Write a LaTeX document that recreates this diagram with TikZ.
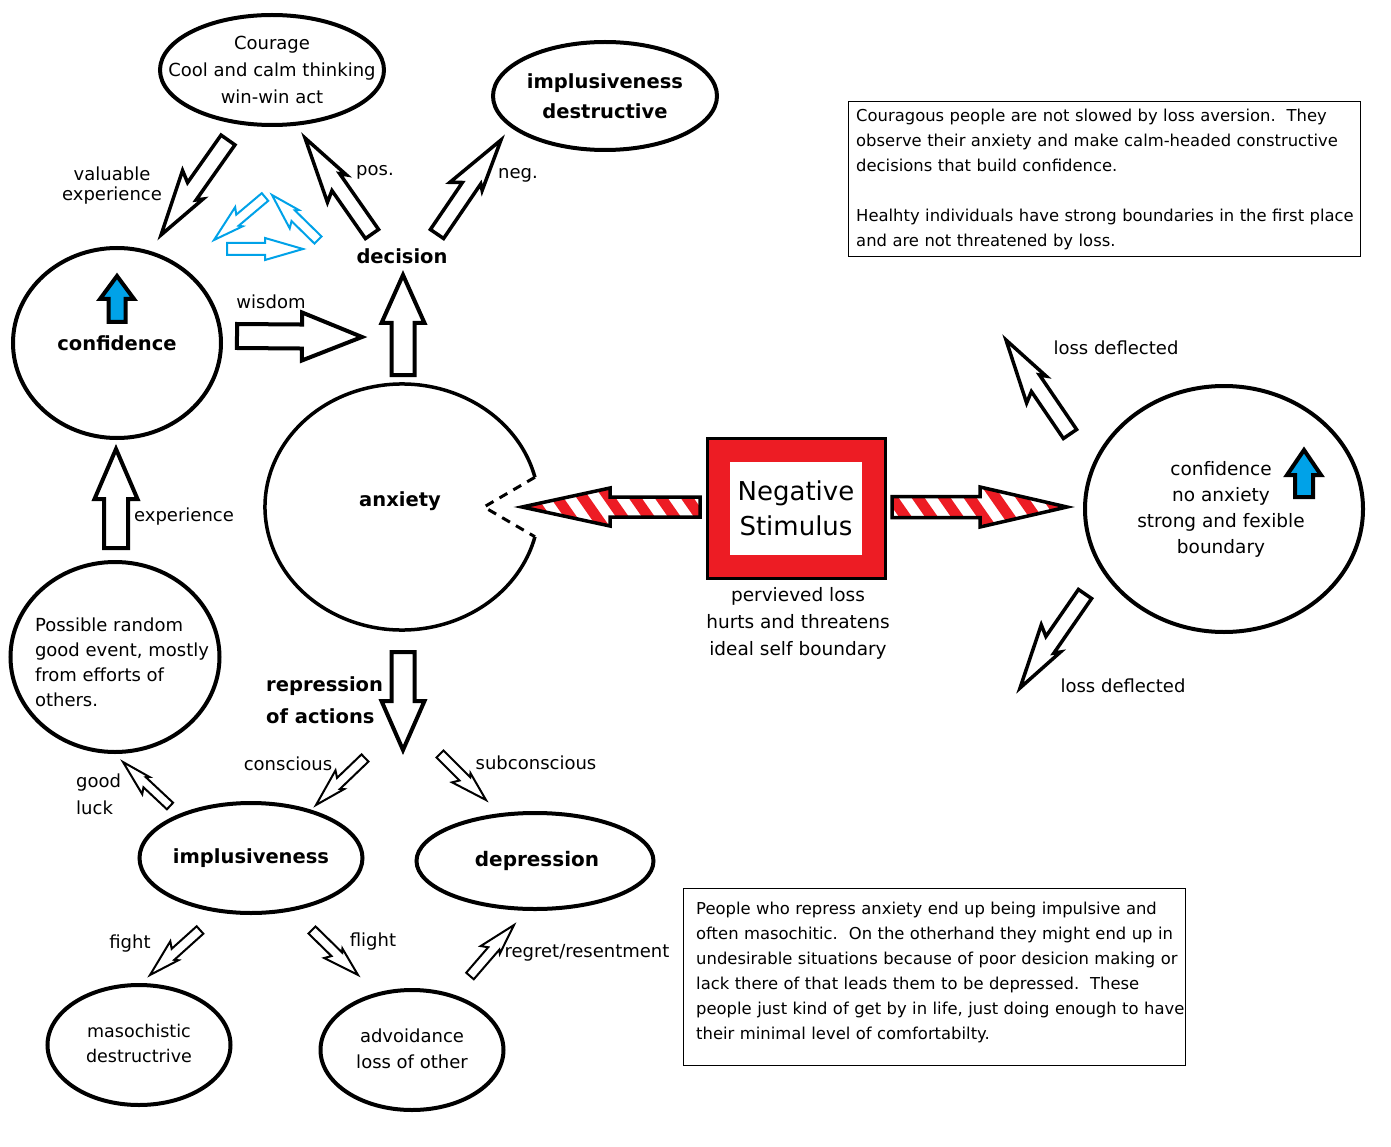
\documentclass[tikz,border=0pt]{standalone}
\usepackage{fontspec}
\setmainfont{DejaVu Sans}
\usetikzlibrary{shapes.geometric,calc}
\definecolor{stimred}{RGB}{237,28,36}
\definecolor{pblue}{RGB}{0,162,232}
\newcommand\fs[2]{\fontsize{#1}{#2}\selectfont}
% frame of an arrow from coordinate #1 to coordinate #2
\newcommand\arrowframe[2]{%
  \pgfpointanchor{#1}{center}\pgfgetlastxy{\arAx}{\arAy}%
  \pgfpointanchor{#2}{center}\pgfgetlastxy{\arBx}{\arBy}%
  \pgfmathsetmacro\aang{atan2((\arBy)-(\arAy),(\arBx)-(\arAx))}%
  \pgfmathsetmacro\alen{veclen((\arBx)-(\arAx),(\arBy)-(\arAy))}%
}
% block arrow polygon: half shaft #1, half head #2, head length #3
\newcommand\bpoly[3]{(0,-#1) -- ({\alen-#3},-#1) -- ({\alen-#3},-#2) -- (\alen,0) -- ({\alen-#3},#2) -- ({\alen-#3},#1) -- (0,#1) -- cycle}
% lightning arrow polygon: half width #1
\newcommand\lpoly[1]{(0,-#1) -- (0,#1) -- ({0.5*\alen},#1) -- ({0.44*\alen},{2.3*#1}) -- (\alen,0) -- ({0.54*\alen},{-1.6*#1}) -- ({0.58*\alen},-#1) -- cycle}
\newcommand\blockarrow[6]{% style, from, to, h, H, head length
  \arrowframe{#2}{#3}%
  \begin{scope}[shift={(\arAx,\arAy)}, rotate=\aang, x=1pt, y=1pt]
    \draw[#1] \bpoly{#4}{#5}{#6};
  \end{scope}}
\newcommand\boltarrow[5]{% style, from, to, h, mirror
  \arrowframe{#2}{#3}%
  \begin{scope}[shift={(\arAx,\arAy)}, rotate=\aang, x=1pt, y=1pt, yscale=#5]
    \draw[#1] \lpoly{#4};
  \end{scope}}
\newcommand\stripearrow[5]{% from, to, h, H, head length
  \arrowframe{#1}{#2}%
  \begin{scope}[shift={(\arAx,\arAy)}, rotate=\aang, x=1pt, y=1pt]
    \fill[white] \bpoly{#3}{#4}{#5};
    \begin{scope}
      \clip \bpoly{#3}{#4}{#5};
      \foreach \k in {-2,...,9} {\fill[stimred] ({\k*26+17.5},-25) -- ++(13,0) -- ++(-35,50) -- ++(-13,0) -- cycle;}
    \end{scope}
    \draw[line width=3.5] \bpoly{#3}{#4}{#5};
  \end{scope}}
\tikzset{
  ell/.style={draw, line width=4, ellipse, inner sep=0pt},
  txt/.style={inner sep=0pt, align=center},
  lab/.style={inner sep=0pt, font=\fs{18}{25}},
  bt/.style={inner sep=0pt, font=\bfseries\fs{19.5}{30}},
  blk/.style={draw, line width=4, fill=white},
  bigbolt/.style={draw, line width=3.5, fill=white},
  smallbolt/.style={draw, line width=2, fill=white},
  bluebolt/.style={draw=pblue, line width=2, fill=white},
  bluefill/.style={draw, line width=4, fill=pblue},
}
\begin{document}
\begin{tikzpicture}[x=1pt,y=-1pt]
\useasboundingbox (0,0) rectangle (1391,1147);
\fill[white] (0,0) rectangle (1391,1147);

% ---- ellipses
\node[ell, minimum width=224, minimum height=110] (courage) at (272,70) {};
\node[txt, font=\fs{18}{27}] (courage-t) at (courage) {Courage\\Cool and calm thinking\\win-win act};
\node[ell, minimum width=224, minimum height=108] (impd) at (605,96) {};
\node[txt, font=\bfseries\fs{19.5}{30}] (impd-t) at (impd) {implusiveness\\destructive};
\node[ell, minimum width=208, minimum height=190] (conf) at (117,343) {};
\node[bt] (conf-t) at (conf) {confidence};
\node[ell, minimum width=209, minimum height=190] (rand) at (115,657) {};
\node[txt, align=left, font=\fs{18}{25}] (rand-t) at (122,662) {Possible random\\good event, mostly\\from efforts of\\others.};
\node[ell, minimum width=278, minimum height=246] (healthy) at (1224,509) {};
\node[txt, font=\fs{18.5}{26}] (healthy-t) at (1221,509) {confidence\\no anxiety\\strong and fexible\\boundary};
\node[ell, minimum width=223, minimum height=110] (imp) at (251,858) {};
\node[bt] (imp-t) at (imp) {implusiveness};
\node[ell, minimum width=237, minimum height=96] (dep) at (535,861) {};
\node[bt, font=\bfseries\fs{20}{30}] (dep-t) at (537,861) {depression};
\node[ell, minimum width=183, minimum height=120] (maso) at (139,1045) {};
\node[txt, font=\fs{17.5}{25}] (maso-t) at (139,1043) {masochistic\\destructrive};
\node[ell, minimum width=183, minimum height=120] (avoid) at (412,1050) {};
\node[txt, font=\fs{18}{26}] (avoid-t) at (412,1049) {advoidance\\loss of other};

% ---- anxiety (open circle)
\coordinate (anx) at (402,507);
\coordinate (anxin) at (484,507);
\node[bt] (anxt) at (400,501) {anxiety};
\draw[line width=3.5] ($(anx)+(14:137pt and 123pt)$) arc[start angle=14, end angle=346, x radius=137pt, y radius=123pt];
\draw[line width=3, dash pattern=on 9pt off 7pt] ($(anx)+(14:137pt and 123pt)$) -- (anxin) -- ($(anx)+(-14:137pt and 123pt)$);

% ---- negative stimulus
\node[draw, line width=3, fill=stimred, minimum width=178, minimum height=140, inner sep=0pt] (stim) at (796,508) {};
\node[fill=white, minimum width=132, minimum height=93, inner sep=0pt, align=center, font=\fs{26}{35}] (stimt) at (796,508.5) {Negative\\Stimulus};
\node[lab, align=center, font=\fs{18.5}{27}] (losst) at (798,623) {pervieved loss\\hurts and threatens\\ideal self boundary};

% ---- text labels
\node[bt] (decision) at (402,256) {decision};
\node[lab, align=center, font=\fs{18}{20}] (vexp) at (112,186) {valuable\\experience};
\node[lab] (pos) at (375,172) {pos.};
\node[lab] (neg) at (518,175) {neg.};
\node[lab] (wisdom) at (271,302) {wisdom};
\node[lab] (exper) at (184,517) {experience};
\node[bt, align=left, font=\bfseries\fs{19.5}{32}, anchor=west] (repr) at (266,700) {repression\\of actions};
\node[lab] (ldu) at (1116,348) {loss deflected};
\node[lab] (ldd) at (1123,686) {loss deflected};
\node[lab, align=left, font=\fs{18}{27}, anchor=west] (gluck) at (76,794.5) {good\\luck};
\node[lab] (consc) at (288,764) {conscious};
\node[lab] (subc) at (536,763) {subconscious};
\node[lab] (fight) at (130,944) {fight};
\node[lab] (flight) at (373,942) {flight};
\node[lab] (regret) at (587,953) {regret/resentment};

% ---- text boxes
\node[draw, line width=1, anchor=north west, minimum width=512, minimum height=155, inner sep=0pt] (box1) at (848,101) {};
\node[anchor=north west, inner sep=0pt, text width=520, align=left, font=\fs{16.4}{25}] (box1t) at (856,108.5) {Couragous people are not slowed by loss aversion.\ \ They\\observe their anxiety and make calm-headed constructive\\decisions that build confidence.\\[25pt]Healhty individuals have strong boundaries in the first place\\and are not threatened by loss.};
\node[draw, line width=1, anchor=north west, minimum width=502, minimum height=177, inner sep=0pt] (box2) at (683,888) {};
\node[anchor=north west, inner sep=0pt, text width=540, align=left, font=\fs{16.4}{25}] (box2t) at (696,901.5) {People who repress anxiety end up being impulsive and\\often masochitic.\ \ On the otherhand they might end up in\\undesirable situations because of poor desicion making or\\lack there of that leads them to be depressed.\ \ These\\people just kind of get by in life, just doing enough to have\\their minimal level of comfortabilty.};

% ---- arrow end points
\coordinate (ve1) at (228,140); \coordinate (ve2) at (161,235);
\coordinate (po1) at (372,234); \coordinate (po2) at (305,138);
\coordinate (ne1) at (437,234); \coordinate (ne2) at (501,140);
\coordinate (lu1) at (1070,434); \coordinate (lu2) at (1006,340);
\coordinate (ld1) at (1085,594); \coordinate (ld2) at (1020,688);
\coordinate (gl1) at (170,806); \coordinate (gl2) at (123,762);
\coordinate (co1) at (365,758); \coordinate (co2) at (316,805);
\coordinate (sc1) at (440,754); \coordinate (sc2) at (486,800);
\coordinate (fi1) at (200,930); \coordinate (fi2) at (150,975);
\coordinate (fl1) at (312,930); \coordinate (fl2) at (358,975);
\coordinate (rr1) at (470,976); \coordinate (rr2) at (514,925);
\coordinate (b11) at (265,197); \coordinate (b12) at (214,240);
\coordinate (b21) at (318,240); \coordinate (b22) at (272,195);
\coordinate (b31) at (227,249); \coordinate (b32) at (303,249);
\coordinate (wi1) at (237,336); \coordinate (wi2) at (362,337);
\coordinate (de1) at (403,375); \coordinate (de2) at (403,275);
\coordinate (re1) at (403,652); \coordinate (re2) at (403,750);
\coordinate (ex1) at (116,548); \coordinate (ex2) at (116,449);
\coordinate (cu1) at (117,322); \coordinate (cu2) at (117,276);
\coordinate (hu1) at (1304,497); \coordinate (hu2) at (1304,450);
\coordinate (sl1) at (700,507); \coordinate (sl2) at (522,507);
\coordinate (sr1) at (892,507); \coordinate (sr2) at (1067,507);

% ---- block arrows
\blockarrow{blk}{wi1}{wi2}{12}{24}{60}
\blockarrow{blk}{de1}{de2}{11.5}{21.5}{48}
\blockarrow{blk}{re1}{re2}{11.5}{21.5}{49}
\blockarrow{blk}{ex1}{ex2}{12}{21.5}{50}
\blockarrow{bluefill}{cu1}{cu2}{8.5}{17}{23}
\blockarrow{bluefill}{hu1}{hu2}{9}{17}{25}
\blockarrow{draw=pblue, line width=2, fill=white}{b31}{b32}{6}{11}{38}
\stripearrow{sl1}{sl2}{10}{19}{88}
\stripearrow{sr1}{sr2}{10.5}{20}{87}

% ---- lightning arrows
\boltarrow{bigbolt}{ve1}{ve2}{8.5}{-1}
\boltarrow{bigbolt}{po1}{po2}{8}{1}
\boltarrow{bigbolt}{ne1}{ne2}{8}{1}
\boltarrow{bigbolt}{lu1}{lu2}{8}{1}
\boltarrow{bigbolt}{ld1}{ld2}{8}{-1}
\boltarrow{smallbolt}{gl1}{gl2}{4.5}{1}
\boltarrow{smallbolt}{co1}{co2}{5}{-1}
\boltarrow{smallbolt}{sc1}{sc2}{5}{-1}
\boltarrow{smallbolt}{fi1}{fi2}{5}{-1}
\boltarrow{smallbolt}{fl1}{fl2}{5}{-1}
\boltarrow{smallbolt}{rr1}{rr2}{5}{1}
\boltarrow{bluebolt}{b11}{b12}{5}{-1}
\boltarrow{bluebolt}{b21}{b22}{5}{1}
\end{tikzpicture}
\end{document}
